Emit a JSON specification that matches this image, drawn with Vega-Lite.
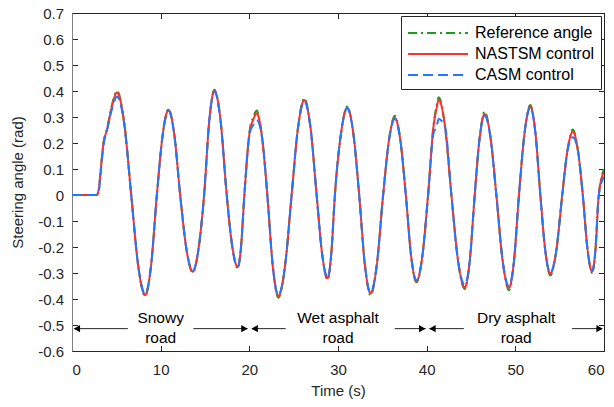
{
  "$schema": "https://vega.github.io/schema/vega-lite/v6.json",
  "width": 532,
  "height": 338,
  "autosize": {"type": "none"},
  "padding": {"left": 72, "top": 13, "right": 10, "bottom": 56},
  "background": "white",
  "config": {
    "font": "Liberation Sans",
    "view": {"stroke": "#262626", "strokeWidth": 1},
    "axis": {
      "labelFont": "Liberation Sans", "titleFont": "Liberation Sans",
      "labelFontSize": 15, "titleFontSize": 15, "titleFontWeight": "normal",
      "labelColor": "#262626", "titleColor": "#262626",
      "domainColor": "#262626", "tickColor": "#262626",
      "tickSize": -5.5, "grid": false
    },
    "legend": {
      "orient": "top-right", "offset": 3, "strokeColor": "#262626", "fillColor": "white",
      "padding": 6, "labelFont": "Liberation Sans", "labelFontSize": 16, "labelColor": "#000000",
      "symbolType": "M-1,0H5", "symbolSize": 400, "symbolStrokeWidth": 2,
      "rowPadding": 2, "labelOffset": 46
    }
  },
  "datasets": {
    "sig": [
      {"t": 0, "R": 0, "N": 0, "C": 0},
      {"t": 2.8, "R": 0, "N": 0, "C": 0},
      {"t": 3.05, "R": 0.03, "N": 0.03, "C": 0.02},
      {"t": 3.25, "R": 0.1, "N": 0.1, "C": 0.09},
      {"t": 3.55, "R": 0.2, "N": 0.2, "C": 0.19},
      {"t": 3.95, "R": 0.255, "N": 0.25, "C": 0.25},
      {"t": 4.5, "R": 0.345, "N": 0.34, "C": 0.33},
      {"t": 5.07, "R": 0.4, "N": 0.394, "C": 0.378},
      {"t": 5.88, "R": 0.28, "N": 0.28, "C": 0.275},
      {"t": 6.68, "R": 0, "N": 0, "C": 0},
      {"t": 7.47, "R": -0.273, "N": -0.273, "C": -0.273},
      {"t": 8.25, "R": -0.388, "N": -0.385, "C": -0.38},
      {"t": 8.91, "R": -0.273, "N": -0.273, "C": -0.273},
      {"t": 9.57, "R": 0, "N": 0, "C": 0},
      {"t": 10.23, "R": 0.232, "N": 0.232, "C": 0.232},
      {"t": 10.88, "R": 0.33, "N": 0.327, "C": 0.325},
      {"t": 11.54, "R": 0.232, "N": 0.232, "C": 0.232},
      {"t": 12.2, "R": 0, "N": 0, "C": 0},
      {"t": 12.91, "R": -0.209, "N": -0.209, "C": -0.209},
      {"t": 13.62, "R": -0.298, "N": -0.295, "C": -0.292},
      {"t": 14.26, "R": -0.209, "N": -0.209, "C": -0.209},
      {"t": 14.9, "R": 0, "N": 0, "C": 0},
      {"t": 15.48, "R": 0.285, "N": 0.285, "C": 0.285},
      {"t": 16.06, "R": 0.405, "N": 0.401, "C": 0.398},
      {"t": 16.76, "R": 0.285, "N": 0.285, "C": 0.285},
      {"t": 17.45, "R": 0, "N": 0, "C": 0},
      {"t": 18.07, "R": -0.197, "N": -0.197, "C": -0.197},
      {"t": 18.69, "R": -0.283, "N": -0.277, "C": -0.276},
      {"t": 19.07, "R": -0.197, "N": -0.197, "C": -0.197},
      {"t": 19.44, "R": 0, "N": 0, "C": 0},
      {"t": 20.05, "R": 0.25, "N": 0.245, "C": 0.24},
      {"t": 20.45, "R": 0.3, "N": 0.29, "C": 0.27},
      {"t": 20.83, "R": 0.325, "N": 0.314, "C": 0.288},
      {"t": 21.43, "R": 0.223, "N": 0.223, "C": 0.223},
      {"t": 22.03, "R": 0, "N": 0, "C": 0},
      {"t": 22.65, "R": -0.275, "N": -0.275, "C": -0.275},
      {"t": 23.27, "R": -0.395, "N": -0.388, "C": -0.385},
      {"t": 24.02, "R": -0.275, "N": -0.275, "C": -0.275},
      {"t": 24.77, "R": 0, "N": 0, "C": 0},
      {"t": 25.49, "R": 0.259, "N": 0.259, "C": 0.259},
      {"t": 26.2, "R": 0.372, "N": 0.365, "C": 0.36},
      {"t": 26.9, "R": 0.259, "N": 0.259, "C": 0.259},
      {"t": 27.59, "R": 0, "N": 0, "C": 0},
      {"t": 28.21, "R": -0.227, "N": -0.227, "C": -0.227},
      {"t": 28.83, "R": -0.326, "N": -0.32, "C": -0.318},
      {"t": 29.24, "R": -0.227, "N": -0.227, "C": -0.227},
      {"t": 29.65, "R": 0, "N": 0, "C": 0},
      {"t": 30.35, "R": 0.239, "N": 0.239, "C": 0.239},
      {"t": 31.04, "R": 0.34, "N": 0.336, "C": 0.334},
      {"t": 31.72, "R": 0.239, "N": 0.239, "C": 0.239},
      {"t": 32.39, "R": 0, "N": 0, "C": 0},
      {"t": 33.03, "R": -0.268, "N": -0.268, "C": -0.268},
      {"t": 33.67, "R": -0.386, "N": -0.378, "C": -0.375},
      {"t": 34.38, "R": -0.268, "N": -0.268, "C": -0.268},
      {"t": 35.09, "R": 0, "N": 0, "C": 0},
      {"t": 35.75, "R": 0.211, "N": 0.211, "C": 0.211},
      {"t": 36.41, "R": 0.305, "N": 0.297, "C": 0.293},
      {"t": 37.03, "R": 0.211, "N": 0.211, "C": 0.211},
      {"t": 37.65, "R": 0, "N": 0, "C": 0},
      {"t": 38.25, "R": -0.236, "N": -0.236, "C": -0.236},
      {"t": 38.85, "R": -0.336, "N": -0.333, "C": -0.328},
      {"t": 39.51, "R": -0.236, "N": -0.236, "C": -0.236},
      {"t": 40.16, "R": 0, "N": 0, "C": 0},
      {"t": 40.76, "R": 0.265, "N": 0.26, "C": 0.235},
      {"t": 41.1, "R": 0.34, "N": 0.33, "C": 0.262},
      {"t": 41.36, "R": 0.376, "N": 0.366, "C": 0.292},
      {"t": 42.08, "R": 0.26, "N": 0.26, "C": 0.26},
      {"t": 42.79, "R": 0, "N": 0, "C": 0},
      {"t": 43.54, "R": -0.253, "N": -0.253, "C": -0.253},
      {"t": 44.29, "R": -0.362, "N": -0.356, "C": -0.345},
      {"t": 44.86, "R": -0.253, "N": -0.253, "C": -0.253},
      {"t": 45.42, "R": 0, "N": 0, "C": 0},
      {"t": 45.98, "R": 0.221, "N": 0.221, "C": 0.221},
      {"t": 46.54, "R": 0.321, "N": 0.311, "C": 0.305},
      {"t": 47.2, "R": 0.221, "N": 0.221, "C": 0.221},
      {"t": 47.86, "R": 0, "N": 0, "C": 0},
      {"t": 48.57, "R": -0.253, "N": -0.253, "C": -0.253},
      {"t": 49.28, "R": -0.366, "N": -0.357, "C": -0.35},
      {"t": 49.85, "R": -0.253, "N": -0.253, "C": -0.253},
      {"t": 50.41, "R": 0, "N": 0, "C": 0},
      {"t": 51.05, "R": 0.241, "N": 0.241, "C": 0.241},
      {"t": 51.69, "R": 0.346, "N": 0.34, "C": 0.337},
      {"t": 52.26, "R": 0.241, "N": 0.241, "C": 0.241},
      {"t": 52.82, "R": 0, "N": 0, "C": 0},
      {"t": 53.38, "R": -0.214, "N": -0.214, "C": -0.214},
      {"t": 53.94, "R": -0.31, "N": -0.302, "C": -0.298},
      {"t": 54.62, "R": -0.214, "N": -0.214, "C": -0.214},
      {"t": 55.29, "R": 0, "N": 0, "C": 0},
      {"t": 55.89, "R": 0.173, "N": 0.173, "C": 0.173},
      {"t": 56.49, "R": 0.252, "N": 0.244, "C": 0.222},
      {"t": 57.05, "R": 0.173, "N": 0.173, "C": 0.173},
      {"t": 57.61, "R": 0, "N": 0, "C": 0},
      {"t": 58.14, "R": -0.209, "N": -0.209, "C": -0.209},
      {"t": 58.67, "R": -0.3, "N": -0.295, "C": -0.292},
      {"t": 59.04, "R": -0.209, "N": -0.209, "C": -0.209},
      {"t": 59.41, "R": 0, "N": 0, "C": 0},
      {"t": 60, "R": 0.1, "N": 0.09, "C": 0.07}
    ],
    "segs": [
      {"a": 0.3, "b": 6.3, "y": -0.514},
      {"a": 13.7, "b": 19.8, "y": -0.514},
      {"a": 20.3, "b": 24.1, "y": -0.514},
      {"a": 36.4, "b": 39.9, "y": -0.514},
      {"a": 40.3, "b": 44.2, "y": -0.514},
      {"a": 56.4, "b": 59.8, "y": -0.514}
    ],
    "heads": [
      {"x": 0.55, "y": -0.514, "dir": "L"},
      {"x": 19.45, "y": -0.514, "dir": "R"},
      {"x": 20.6, "y": -0.514, "dir": "L"},
      {"x": 39.5, "y": -0.514, "dir": "R"},
      {"x": 40.65, "y": -0.514, "dir": "L"},
      {"x": 59.5, "y": -0.514, "dir": "R"}
    ],
    "labels": [
      {"x": 10, "y": -0.491, "txt": "Snowy"},
      {"x": 10, "y": -0.571, "txt": "road"},
      {"x": 30, "y": -0.491, "txt": "Wet asphalt"},
      {"x": 30, "y": -0.571, "txt": "road"},
      {"x": 50.1, "y": -0.491, "txt": "Dry asphalt"},
      {"x": 50.1, "y": -0.571, "txt": "road"}
    ]
  },
  "layer": [
    {
      "data": {"name": "sig"},
      "transform": [{"fold": ["R", "N", "C"], "as": ["series", "angle"]}],
      "mark": {"type": "line", "interpolate": "monotone", "strokeWidth": 2, "clip": true},
      "encoding": {
        "x": {"field": "t", "type": "quantitative", "scale": {"domain": [0, 60], "nice": false, "zero": false},
          "axis": {"orient": "bottom", "title": "Time (s)", "values": [0, 10, 20, 30, 40, 50, 60], "format": "d", "labelPadding": 17, "titlePadding": 6}},
        "y": {"field": "angle", "type": "quantitative", "scale": {"domain": [-0.6, 0.7], "nice": false, "zero": false},
          "axis": {"orient": "left", "title": "Steering angle (rad)", "domainColor": "#808080",
            "values": [-0.6, -0.5, -0.4, -0.3, -0.2, -0.1, 0, 0.1, 0.2, 0.3, 0.4, 0.5, 0.6, 0.7],
            "labelExpr": "datum.value == 0 ? '0' : toString(round(datum.value*10)/10)", "labelPadding": 14, "titlePadding": 12}},
        "color": {"field": "series", "type": "nominal", "sort": ["R", "N", "C"],
          "scale": {"domain": ["R", "N", "C"], "range": ["#1a9e1a", "#ff3030", "#2277ff"]},
          "legend": {"title": null, "labelExpr": "datum.label == 'R' ? 'Reference angle' : datum.label == 'N' ? 'NASTSM control' : 'CASM control'"}},
        "strokeDash": {"field": "series", "type": "nominal", "sort": ["R", "N", "C"],
          "scale": {"domain": ["R", "N", "C"], "range": [[9, 4, 2, 4], [1, 0], [10, 5]]},
          "legend": {"title": null, "labelExpr": "datum.label == 'R' ? 'Reference angle' : datum.label == 'N' ? 'NASTSM control' : 'CASM control'"}}
      }
    },
    {
      "data": {"name": "segs"},
      "mark": {"type": "rule", "color": "#262626", "strokeWidth": 1},
      "encoding": {
        "x": {"field": "a", "type": "quantitative", "scale": {"domain": [0, 60], "nice": false, "zero": false},
          "axis": {"orient": "top", "title": null, "labels": false, "values": [0, 10, 20, 30, 40, 50, 60]}},
        "x2": {"field": "b"},
        "y": {"field": "y", "type": "quantitative", "scale": {"domain": [-0.6, 0.7], "nice": false, "zero": false},
          "axis": {"orient": "right", "title": null, "labels": false,
            "values": [-0.6, -0.5, -0.4, -0.3, -0.2, -0.1, 0, 0.1, 0.2, 0.3, 0.4, 0.5, 0.6, 0.7]}}
      }
    },
    {
      "data": {"name": "heads"},
      "mark": {"type": "point", "filled": true, "color": "#000000", "size": 55, "opacity": 1},
      "encoding": {
        "x": {"field": "x", "type": "quantitative", "scale": {"domain": [0, 60], "nice": false, "zero": false}, "axis": null},
        "y": {"field": "y", "type": "quantitative", "scale": {"domain": [-0.6, 0.7], "nice": false, "zero": false}, "axis": null},
        "shape": {"field": "dir", "type": "nominal", "scale": {"domain": ["L", "R"], "range": ["triangle-left", "triangle-right"]}, "legend": null}
      }
    },
    {
      "data": {"name": "labels"},
      "mark": {"type": "text", "font": "Liberation Sans", "fontSize": 15.5, "align": "center", "baseline": "alphabetic", "color": "#000000"},
      "encoding": {
        "x": {"field": "x", "type": "quantitative", "scale": {"domain": [0, 60], "nice": false, "zero": false}, "axis": null},
        "y": {"field": "y", "type": "quantitative", "scale": {"domain": [-0.6, 0.7], "nice": false, "zero": false}, "axis": null},
        "text": {"field": "txt"}
      }
    }
  ],
  "resolve": {"axis": {"x": "independent", "y": "independent"}}
}
